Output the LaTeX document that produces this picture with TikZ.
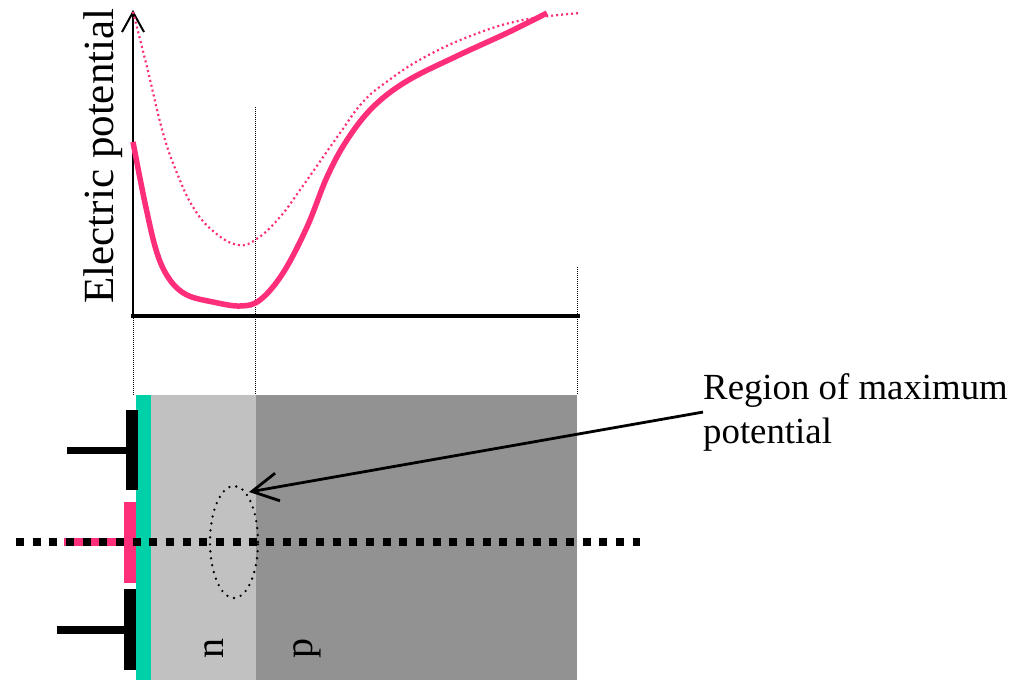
\documentclass[tikz,border=0pt]{standalone}
\usepackage{fontspec}
\setmainfont{Liberation Serif}
\usetikzlibrary{arrows.meta,shapes.geometric}
\definecolor{rosa}{RGB}{255,46,122}
\definecolor{verde}{RGB}{0,208,168}
\definecolor{grisclaro}{RGB}{192,193,192}
\definecolor{grisoscuro}{RGB}{146,146,146}

\begin{document}
\begin{tikzpicture}[x=1pt,y=-1pt,
    guia/.style={black,line width=0.9pt,dash pattern=on 1pt off 1pt},
    rosapuntos/.style={rosa,line width=2.2pt,dash pattern=on 2pt off 3pt},
    etiq/.style={font=\fontsize{40}{44}\selectfont,inner sep=0pt}]
  \useasboundingbox (0,0) rectangle (1013,680);
  % dispositivo
  \fill[grisoscuro] (256,395) rectangle (577,680);
  \fill[grisclaro] (151,395) rectangle (256,680);
  \fill[verde] (136,395) rectangle (151,680);
  % electrodos
  \fill (126,410) rectangle (138,490);
  \fill (124,589) rectangle (136,670);
  \draw[line width=7pt] (67,450) -- (126,450);
  \draw[line width=8pt] (57,630) -- (124,630);
  \draw[rosa,line width=8pt] (64,542) -- (124,542);
  \fill[rosa] (124,502) rectangle (136,583);
  \draw[line width=8pt,dash pattern=on 8pt off 8.67pt] (16,542) -- (640,542);
  % zona de maximo
  \node (zona) [ellipse,draw,line width=2.6pt,dash pattern=on 0pt off 7pt,line cap=round,
    minimum width=48pt,minimum height=112pt,inner sep=0pt] at (234,542) {};
  % ejes
  \draw[line width=2pt,-{Straight Barb[length=20pt,width=22pt]}] (133,317) -- (133,10);
  \draw[line width=3.5pt] (131,316) -- (580,316);
  \draw[guia] (133,318) -- (133,395);
  \draw[guia] (255,107) -- (255,395);
  \draw[guia] (577,267) -- (577,395);
  % curvas
  \draw[rosapuntos] plot[smooth,tension=0.7] coordinates
    {(133,12) (147,67) (163,133) (177,173) (193,207) (213,231) (238,245) (258,238) (280,217) (300,190) (340,133) (362,103) (385,83) (423,58) (473,35) (523,20) (580,13)};
  \draw[rosa,line width=5.5pt] plot[smooth,tension=0.6] coordinates
    {(133,142) (145,203) (157,253) (170,280) (187,295) (213,302) (240,306) (260,300) (283,273) (307,227) (327,177) (347,140) (373,107) (407,81) (457,56) (507,33) (547,13)};
  % textos
  \node[etiq,rotate=90,anchor=base,font=\fontsize{43}{50}\selectfont] (ejey) at (113,156) {Electric potential};
  \node[etiq,rotate=90,anchor=base] (n) at (223,648) {n};
  \node[etiq,rotate=90,anchor=base] (p) at (312,648) {p};
  \node[inner sep=0pt,anchor=north west,align=left,font=\fontsize{36.8}{44}\selectfont] (texto) at (703,373) {Region of maximum\\potential};
  \coordinate (punta) at (249,492);
  \draw[line width=2.8pt,-{Straight Barb[length=26pt,width=28pt]}] (texto.west) -- (punta);
\end{tikzpicture}
\end{document}
